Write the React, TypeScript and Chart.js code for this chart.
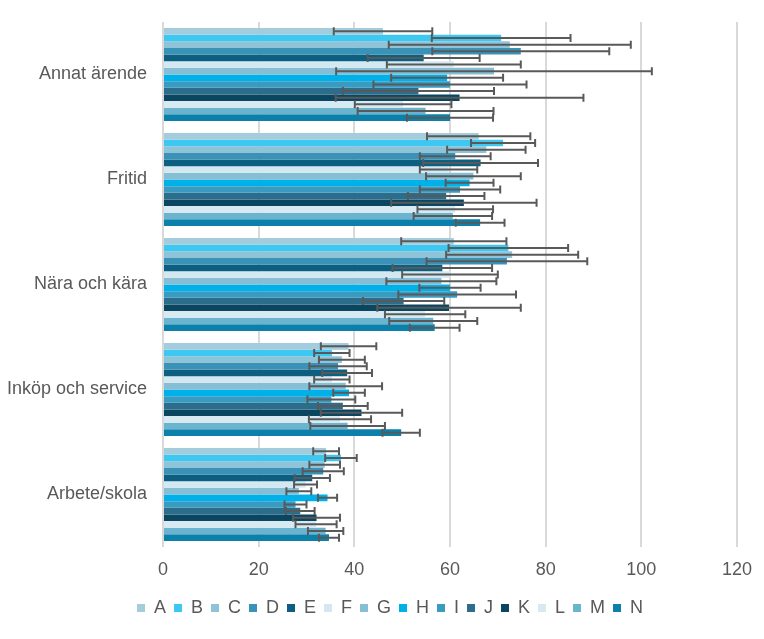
import React, { useEffect, useRef } from "react";
import { Chart, registerables } from "chart.js";

Chart.register(...registerables);

const categories = ["Annat ärende", "Fritid", "Nära och kära", "Inköp och service", "Arbete/skola"];
const seriesNames = ["A", "B", "C", "D", "E", "F", "G", "H", "I", "J", "K", "L", "M", "N"];
const xTicks = [0, 20, 40, 60, 80, 100, 120];

const valuesA = [46.0, 66.0, 60.8, 38.8, 34.1];
const valuesB = [70.7, 71.1, 72.2, 35.3, 37.2];
const valuesC = [72.5, 67.6, 73.0, 37.4, 33.8];
const valuesD = [74.8, 61.1, 71.9, 36.6, 33.5];
const valuesE = [54.5, 66.4, 58.4, 38.5, 31.2];
const valuesF = [60.8, 59.7, 60.0, 35.3, 29.8];
const valuesG = [69.2, 64.9, 58.2, 38.2, 28.4];
const valuesH = [59.4, 64.1, 60.0, 38.9, 34.4];
const valuesI = [60.0, 62.1, 61.5, 35.2, 27.7];
const valuesJ = [53.4, 59.2, 50.3, 37.6, 28.7];
const valuesK = [62.0, 62.9, 59.8, 41.5, 32.1];
const valuesL = [50.2, 61.1, 54.8, 37.0, 32.0];
const valuesM = [54.9, 60.6, 56.5, 38.6, 34.0];
const valuesN = [60.0, 66.3, 56.8, 49.8, 34.7];

const errA = [10.3, 10.8, 11.0, 5.8, 2.7];
const errB = [14.5, 6.7, 12.5, 3.7, 3.3];
const errC = [25.3, 8.2, 13.8, 4.8, 3.2];
const errD = [18.5, 7.4, 16.8, 6.0, 4.3];
const errE = [11.7, 12.0, 10.4, 5.2, 3.7];
const errF = [14.0, 6.0, 10.0, 3.7, 2.4];
const errG = [33.0, 9.9, 11.5, 7.6, 2.6];
const errH = [11.7, 5.0, 6.4, 3.3, 2.0];
const errI = [16.0, 8.4, 12.3, 5.0, 2.3];
const errJ = [15.8, 8.0, 8.5, 5.2, 3.0];
const errK = [25.9, 15.2, 15.0, 8.5, 4.9];
const errL = [10.1, 7.9, 8.4, 6.5, 4.3];
const errM = [14.2, 8.2, 9.2, 7.8, 3.7];
const errN = [9.0, 5.1, 5.2, 3.9, 2.1];

const seriesValues = [valuesA, valuesB, valuesC, valuesD, valuesE, valuesF, valuesG, valuesH, valuesI, valuesJ, valuesK, valuesL, valuesM, valuesN];
const seriesErrors = [errA, errB, errC, errD, errE, errF, errG, errH, errI, errJ, errK, errL, errM, errN];
const seriesColors = [
  "#a3cddd", "#3cc8f1", "#8fc4d8", "#3a93b7", "#0d5f82", "#d3e8f0", "#86bfd5",
  "#00b1e9", "#3a9bc1", "#2c6d8b", "#0b4661", "#d8eaf1", "#6bb4cf", "#0a80aa",
];

const FONT = "'Liberation Sans', Arial, sans-serif";
const TEXT = "#595959";

const errorBarPlugin = {
  id: "errorBars",
  afterDatasetsDraw(chart: any) {
    const ctx = chart.ctx;
    const xs = chart.scales.x;
    ctx.save();
    ctx.strokeStyle = "#595959";
    ctx.lineWidth = 2;
    chart.data.datasets.forEach((ds: any, i: number) => {
      const meta = chart.getDatasetMeta(i);
      if (meta.hidden) return;
      meta.data.forEach((bar: any, j: number) => {
        const v = ds.data[j];
        const e = ds.errors[j];
        const x0 = xs.getPixelForValue(v - e);
        const x1 = xs.getPixelForValue(v + e);
        const y = bar.y;
        const h = 4;
        ctx.beginPath();
        ctx.moveTo(x0, y);
        ctx.lineTo(x1, y);
        ctx.moveTo(x0, y - h);
        ctx.lineTo(x0, y + h);
        ctx.moveTo(x1, y - h);
        ctx.lineTo(x1, y + h);
        ctx.stroke();
      });
    });
    ctx.restore();
  },
};

export default function App() {
  const canvasRef = useRef<HTMLCanvasElement | null>(null);

  useEffect(() => {
    if (!canvasRef.current) return;
    const datasets = seriesNames.map((name, i) => ({
      label: name,
      data: seriesValues[i],
      errors: seriesErrors[i],
      backgroundColor: seriesColors[i],
      borderWidth: 0,
      categoryPercentage: 0.885,
      barPercentage: 1,
    }));
    const chart = new Chart(canvasRef.current, {
      type: "bar",
      data: { labels: categories, datasets: datasets as any },
      plugins: [errorBarPlugin],
      options: {
        indexAxis: "y",
        animation: false,
        responsive: false,
        layout: { padding: { left: 34, right: 18, top: 22, bottom: 12 } },
        plugins: {
          tooltip: { enabled: false },
          legend: {
            position: "bottom",
            labels: {
              boxWidth: 8,
              boxHeight: 8,
              padding: 8,
              color: TEXT,
              font: { family: FONT, size: 18 },
            },
          },
        },
        scales: {
          x: {
            min: 0,
            max: 120,
            afterBuildTicks: (s: any) => {
              s.ticks = xTicks.map((v) => ({ value: v }));
            },
            afterFit: (s: any) => {
              s.height = 44;
            },
            ticks: { color: TEXT, font: { family: FONT, size: 18 }, padding: 12 },
            grid: { color: "#d9d9d9", lineWidth: 2, drawTicks: false },
            border: { display: false },
          },
          y: {
            afterFit: (s: any) => {
              s.width = 129;
              s.paddingTop = 0;
              s.paddingBottom = 0;
              s._computeLabelArea = function () {
                return { top: 0, left: 0, bottom: this.chart.height, right: this.right };
              };
            },
            ticks: { color: TEXT, font: { family: FONT, size: 18 }, padding: 16 },
            grid: { display: false, drawTicks: false },
            border: { display: false },
          },
        },
      } as any,
    });
    return () => chart.destroy();
  }, []);

  return (
    <div style={{ position: "fixed", left: 0, top: 0, width: 764, height: 639, background: "#fff" }}>
      <canvas ref={canvasRef} width={764} height={639} style={{ display: "block" }} />
    </div>
  );
}
